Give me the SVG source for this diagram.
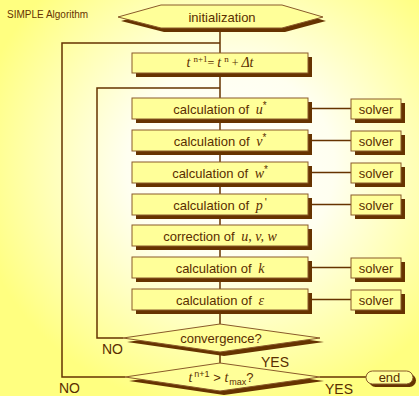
<svg xmlns="http://www.w3.org/2000/svg" width="419" height="396" viewBox="0 0 419 396">
<defs>
<radialGradient id="bg" cx="0.55" cy="0.42" r="0.62">
<stop offset="0" stop-color="#ffffff"/>
<stop offset="0.4" stop-color="#fffff0"/>
<stop offset="1" stop-color="#ffff80"/>
</radialGradient>
</defs>
<style>
.box{fill:#ffff99;stroke:#8a5a2a;stroke-width:1}
.sh{fill:#663300}
.ln{fill:none;stroke:#663300;stroke-width:1.5}
.t{font-family:"Liberation Sans",Arial,sans-serif;font-size:13px;fill:#5a2e00;text-anchor:middle}
.v{font-family:"Liberation Serif","Times New Roman",serif;font-style:italic;font-size:14px}
.lbl{font-family:"Liberation Sans",Arial,sans-serif;font-size:14px;fill:#5a2e00}
</style>
<rect width="419" height="396" fill="url(#bg)"/>
<text x="7" y="18" style="font-family:'Liberation Sans',Arial,sans-serif;font-size:10px;fill:#663300">SIMPLE Algorithm</text>
<g id="connectors">
<line class="ln" x1="220" y1="28" x2="220" y2="365"/>
<polyline class="ln" points="125,377 62,377 62,43 220,43"/>
<polyline class="ln" points="123,338 97,338 97,88 220,88"/>
<line class="ln" x1="309" y1="108.5" x2="351" y2="108.5"/>
<line class="ln" x1="309" y1="140.5" x2="351" y2="140.5"/>
<line class="ln" x1="309" y1="172.5" x2="351" y2="172.5"/>
<line class="ln" x1="309" y1="204.5" x2="351" y2="204.5"/>
<line class="ln" x1="309" y1="267.5" x2="351" y2="267.5"/>
<line class="ln" x1="309" y1="299.5" x2="351" y2="299.5"/>
<line class="ln" x1="320" y1="377" x2="366" y2="377"/>
</g>
<g id="init">
<polygon class="sh" points="121,21 164,9 285,9 326,21 285,32 164,32"/>
<polygon class="box" points="118,17 161,5 282,5 323,17 282,28 161,28"/>
<text class="t" x="222" y="22">initialization</text>
</g>
<g id="timestep">
<rect class="sh" x="136" y="57" width="176" height="20"/>
<rect class="box" x="132" y="53" width="176" height="20"/>
<text class="t" x="220" y="67" style="font-family:'Liberation Serif','Times New Roman',serif;font-size:12px"><tspan class="v" font-size="13">t</tspan><tspan font-size="9" dx="3" dy="-5">n+1</tspan><tspan dy="5">= </tspan><tspan class="v" font-size="13">t</tspan><tspan font-size="9" dx="3" dy="-5">n</tspan><tspan dy="5"> + </tspan><tspan class="v" font-size="13">Δt</tspan></text>
</g>
<g id="calc-u">
<rect class="sh" x="136" y="102" width="176" height="21"/>
<rect class="box" x="132" y="98" width="176" height="21"/>
<text class="t" x="220" y="113.5">calculation of <tspan class="v" dx="3">u</tspan><tspan font-size="10" dy="-5">*</tspan></text>
</g>
<g id="solver-u">
<rect class="sh" x="355" y="103" width="50" height="20"/>
<rect class="box" x="351" y="99" width="50" height="20"/>
<text class="t" x="376" y="113.5">solver</text>
</g>
<g id="calc-v">
<rect class="sh" x="136" y="134" width="176" height="21"/>
<rect class="box" x="132" y="130" width="176" height="21"/>
<text class="t" x="220" y="145.5">calculation of <tspan class="v" dx="3">v</tspan><tspan font-size="10" dy="-5">*</tspan></text>
</g>
<g id="solver-v">
<rect class="sh" x="355" y="135" width="50" height="20"/>
<rect class="box" x="351" y="131" width="50" height="20"/>
<text class="t" x="376" y="145.5">solver</text>
</g>
<g id="calc-w">
<rect class="sh" x="136" y="166" width="176" height="21"/>
<rect class="box" x="132" y="162" width="176" height="21"/>
<text class="t" x="220" y="177.5">calculation of <tspan class="v" dx="3">w</tspan><tspan font-size="10" dy="-5">*</tspan></text>
</g>
<g id="solver-w">
<rect class="sh" x="355" y="167" width="50" height="20"/>
<rect class="box" x="351" y="163" width="50" height="20"/>
<text class="t" x="376" y="177.5">solver</text>
</g>
<g id="calc-p">
<rect class="sh" x="136" y="198" width="176" height="21"/>
<rect class="box" x="132" y="194" width="176" height="21"/>
<text class="t" x="220" y="209.5">calculation of <tspan class="v" dx="3">p</tspan><tspan font-size="11" dx="2" dy="-4">'</tspan></text>
</g>
<g id="solver-p">
<rect class="sh" x="355" y="199" width="50" height="20"/>
<rect class="box" x="351" y="195" width="50" height="20"/>
<text class="t" x="376" y="209.5">solver</text>
</g>
<g id="correction">
<rect class="sh" x="136" y="229" width="176" height="21"/>
<rect class="box" x="132" y="225" width="176" height="21"/>
<text class="t" x="220" y="240.5">correction of <tspan class="v" dx="3">u, v, w</tspan></text>
</g>
<g id="calc-k">
<rect class="sh" x="136" y="261" width="176" height="21"/>
<rect class="box" x="132" y="257" width="176" height="21"/>
<text class="t" x="220" y="272.5">calculation of <tspan class="v" dx="3">k</tspan></text>
</g>
<g id="solver-k">
<rect class="sh" x="355" y="262" width="50" height="20"/>
<rect class="box" x="351" y="258" width="50" height="20"/>
<text class="t" x="376" y="272.5">solver</text>
</g>
<g id="calc-eps">
<rect class="sh" x="136" y="293" width="176" height="21"/>
<rect class="box" x="132" y="289" width="176" height="21"/>
<text class="t" x="220" y="304.5">calculation of <tspan class="v" dx="3">ε</tspan></text>
</g>
<g id="solver-eps">
<rect class="sh" x="355" y="294" width="50" height="20"/>
<rect class="box" x="351" y="290" width="50" height="20"/>
<text class="t" x="376" y="304.5">solver</text>
</g>
<g id="convergence">
<polygon class="sh" points="127,342 224,328 324,342 224,356"/>
<polygon class="box" points="123,338 220,324 320,338 220,352"/>
<text class="t" x="221" y="343">convergence?</text>
</g>
<g id="tmax">
<polygon class="sh" points="129,381 224,367 324,381 224,395"/>
<polygon class="box" points="125,377 220,363 320,377 220,391"/>
<text class="t" x="221" y="382"><tspan class="v">t</tspan><tspan font-size="9" dx="2" dy="-5">n+1</tspan><tspan dy="5"> &gt; </tspan><tspan class="v">t</tspan><tspan font-size="9" dx="1" dy="3">max</tspan><tspan dy="-3">?</tspan></text>
</g>
<g id="end">
<rect class="sh" x="369" y="374" width="47" height="13" rx="6.5"/>
<rect class="box" x="366" y="371" width="47" height="13" rx="6.5"/>
<text class="t" x="389.5" y="382">end</text>
</g>
<text class="lbl" x="102" y="354">NO</text>
<text class="lbl" x="261" y="367">YES</text>
<text class="lbl" x="59" y="393">NO</text>
<text class="lbl" x="325" y="394">YES</text>
</svg>
